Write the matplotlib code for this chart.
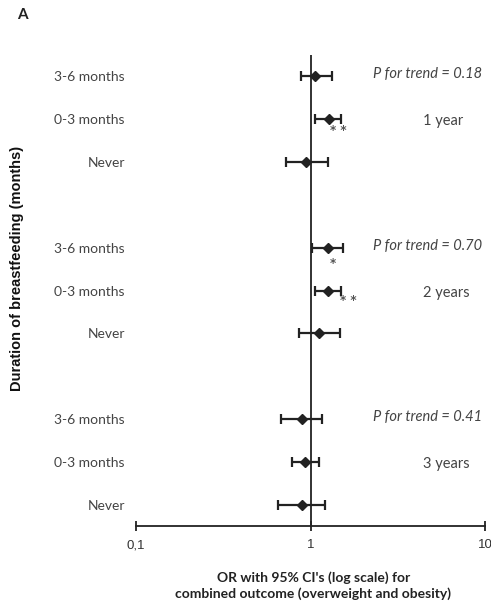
import matplotlib
matplotlib.use("Agg")
import matplotlib.pyplot as plt
import numpy as np

# odds ratios (with 95% CI) by breastfeeding duration, per age group
groups = ['1 year', '2 years', '3 years']
durations = ['3-6 months', '0-3 months', 'Never']
p_trend = ['0.18', '0.70', '0.41']

or_1y = [1.06, 1.27, 0.945]
lo_1y = [0.885, 1.06, 0.72]
hi_1y = [1.32, 1.50, 1.26]

or_2y = [1.26, 1.26, 1.12]
lo_2y = [1.02, 1.06, 0.857]
hi_2y = [1.53, 1.49, 1.48]

or_3y = [0.89, 0.93, 0.89]
lo_3y = [0.68, 0.78, 0.65]
hi_3y = [1.16, 1.12, 1.21]

# significance marks: (group, row, text, x position on OR scale)
stars = [(0, 1, '* *', 1.45), (1, 0, '*', 1.34), (1, 1, '* *', 1.65)]
star_dy = [0.26, 0.37, 0.23]

ors = [or_1y, or_2y, or_3y]
los = [lo_1y, lo_2y, lo_3y]
his = [hi_1y, hi_2y, hi_3y]

# row positions: 3 rows per group, one empty row between groups
ypos = [[12, 11, 10], [8, 7, 6], [4, 3, 2]]

fig = plt.figure(figsize=(4.91, 6.04), dpi=100)
ax = fig.add_axes([0.277, 0.129, 0.711, 0.780])

grey = '#444444'
optima = ['Lato', 'DejaVu Sans']

for g in range(3):
    o = np.array(ors[g])
    err = np.vstack([o - np.array(los[g]), np.array(his[g]) - o])
    ax.errorbar(o, ypos[g], xerr=err, fmt='D', color='#222222', ms=5.5,
                elinewidth=1.6, capsize=3.5, capthick=1.6, zorder=3)

ax.axvline(1, color='#222222', lw=1.3, zorder=2)

ax.set_xscale('log')
ax.set_xlim(0.1, 10)
ax.set_ylim(1.5, 12.5)

ax.set_yticks([y for row in ypos for y in row])
ax.set_yticklabels(durations * 3, fontfamily=optima, fontsize=10, color=grey)
ax.tick_params(axis='y', length=0, pad=8)

ax.set_xticks([0.1, 1, 10])
ax.set_xticklabels(['0,1', '1', '10'], fontfamily='Liberation Sans', fontsize=9.5, color='#333333')
ax.minorticks_off()
ax.tick_params(axis='x', direction='inout', length=7, width=1.3, color='#222222', pad=6)

for s in ['top', 'right', 'left']:
    ax.spines[s].set_visible(False)
ax.spines['bottom'].set_linewidth(1.3)
ax.spines['bottom'].set_color('#222222')

# right-hand annotations
for g in range(3):
    ax.text(9.6, ypos[g][0] + 0.05, 'P for trend = ' + p_trend[g], ha='right', va='center',
            fontstyle='italic', fontfamily=optima, fontsize=10.5, color=grey)
    ax.text(4.4, ypos[g][1] - 0.05, groups[g], ha='left', va='center',
            fontfamily=optima, fontsize=10.5, color=grey)

for (g, r, t, sx), dy in zip(stars, star_dy):
    ax.text(sx, ypos[g][r] - dy, t, ha='center', va='center',
            fontsize=8.5, fontweight='bold', color='#555555')

fig.text(0.638, 0.031, "OR with 95% CI's (log scale) for\ncombined outcome (overweight and obesity)",
         ha='center', va='center', fontfamily=optima, fontweight='bold', fontsize=10,
         color='#222222', linespacing=1.3)
fig.text(0.035, 0.555, 'Duration of breastfeeding (months)', rotation=90, ha='center', va='center',
         fontfamily='Liberation Sans', fontweight='bold', fontsize=10.5, color='#111111')
fig.text(0.045, 0.975, 'A', ha='center', va='center', fontfamily=optima, fontweight='bold',
         fontsize=11, color='#222222')

fig.savefig('out.png', dpi=100)
